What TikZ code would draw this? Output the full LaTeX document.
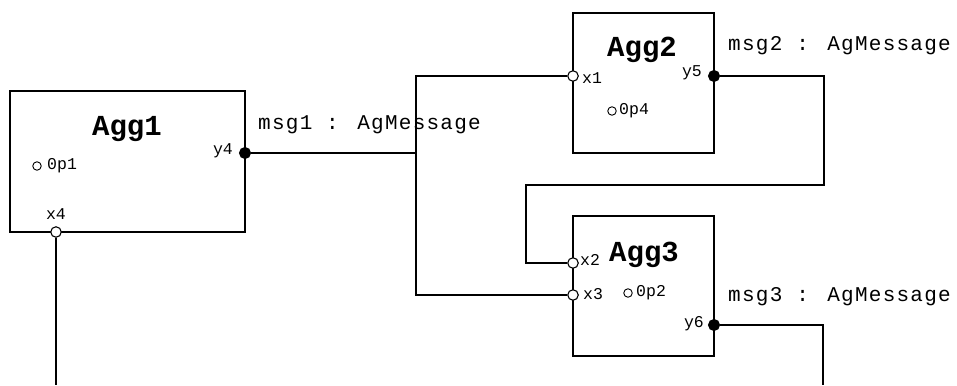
\documentclass[tikz,border=0pt]{standalone}
\usepackage{fontspec}
\setmonofont{Liberation Mono}
\newfontfamily\msgfont[LetterSpace=6]{Liberation Mono}
\begin{document}
\begin{tikzpicture}[x=1pt,y=-1pt,
  aggbox/.style={draw, line width=1.2pt, inner sep=0pt},
  title/.style={font=\ttfamily\bfseries\fontsize{29}{31}\selectfont, inner sep=0pt},
  portlbl/.style={font=\ttfamily\fontsize{16.5}{18}\selectfont, inner sep=0pt},
  msglbl/.style={font=\msgfont\fontsize{21}{22}\selectfont, inner sep=0pt, anchor=west},
  inport/.style={circle, draw, fill=white, line width=1.1pt, inner sep=0pt, minimum size=10.5pt},
  outport/.style={circle, draw, fill=black, line width=1pt, inner sep=0pt, minimum size=11pt},
  opmark/.style={circle, draw, line width=0.9pt, inner sep=0pt, minimum size=8.5pt},
  wire/.style={line width=1.2pt}]
\useasboundingbox (0,0) rectangle (957,385);

% aggregate blocks
\node[aggbox, minimum width=235pt, minimum height=141pt] (agg1) at (127.5,161.5) {};
\node[aggbox, minimum width=141pt, minimum height=140pt] (agg2) at (643.5,83) {};
\node[aggbox, minimum width=141pt, minimum height=140pt] (agg3) at (643.5,286) {};

\node[title] (t1) at (127,129) {Agg1};
\node[title] (t2) at (642,50) {Agg2};
\node[title] (t3) at (644,255) {Agg3};

% operations
\node[opmark] (op1m) at (37,166) {};
\node[portlbl, anchor=west] (op1) at (47,166) {0p1};
\node[opmark] (op4m) at (612,111) {};
\node[portlbl, anchor=west] (op4) at (619,111) {0p4};
\node[opmark] (op2m) at (628,293) {};
\node[portlbl, anchor=west] (op2) at (636,293) {0p2};

% ports
\node[outport] (y4) at (245,153) {};
\node[inport]  (x4) at (56,232) {};
\node[inport]  (x1) at (573,76) {};
\node[outport] (y5) at (714,76) {};
\node[inport]  (x2) at (573,263) {};
\node[inport]  (x3) at (573,295) {};
\node[outport] (y6) at (714,325) {};

% port labels
\node[portlbl, anchor=east] (ly4) at (233,151) {y4};
\node[portlbl] (lx4) at (56,214) {x4};
\node[portlbl, anchor=west] (lx1) at (582,78) {x1};
\node[portlbl, anchor=east] (ly5) at (702,73) {y5};
\node[portlbl, anchor=west] (lx2) at (580,260) {x2};
\node[portlbl, anchor=west] (lx3) at (583,294) {x3};
\node[portlbl, anchor=east] (ly6) at (704,324) {y6};

% message labels
\node[msglbl] (msg1) at (258,125) {msg1 : AgMessage};
\node[msglbl] (msg2) at (728,46) {msg2 : AgMessage};
\node[msglbl] (msg3) at (728,297) {msg3 : AgMessage};

% wiring points
\coordinate (m1) at (416,153);
\coordinate (m1top) at (416,76);
\coordinate (m1bot) at (416,295);
\coordinate (c1) at (824,76);
\coordinate (c2) at (824,185);
\coordinate (c3) at (526,185);
\coordinate (c4) at (526,263);
\coordinate (d1) at (823,325);
\coordinate (d2) at (823,385);
\coordinate (e1) at (56,385);

% connections
\draw[wire] (y4) -- (m1);
\draw[wire] (x1) -- (m1top) -- (m1bot) -- (x3);
\draw[wire] (y5) -- (c1) -- (c2) -- (c3) -- (c4) -- (x2);
\draw[wire] (y6) -- (d1) -- (d2);
\draw[wire] (x4) -- (e1);
\end{tikzpicture}
\end{document}
